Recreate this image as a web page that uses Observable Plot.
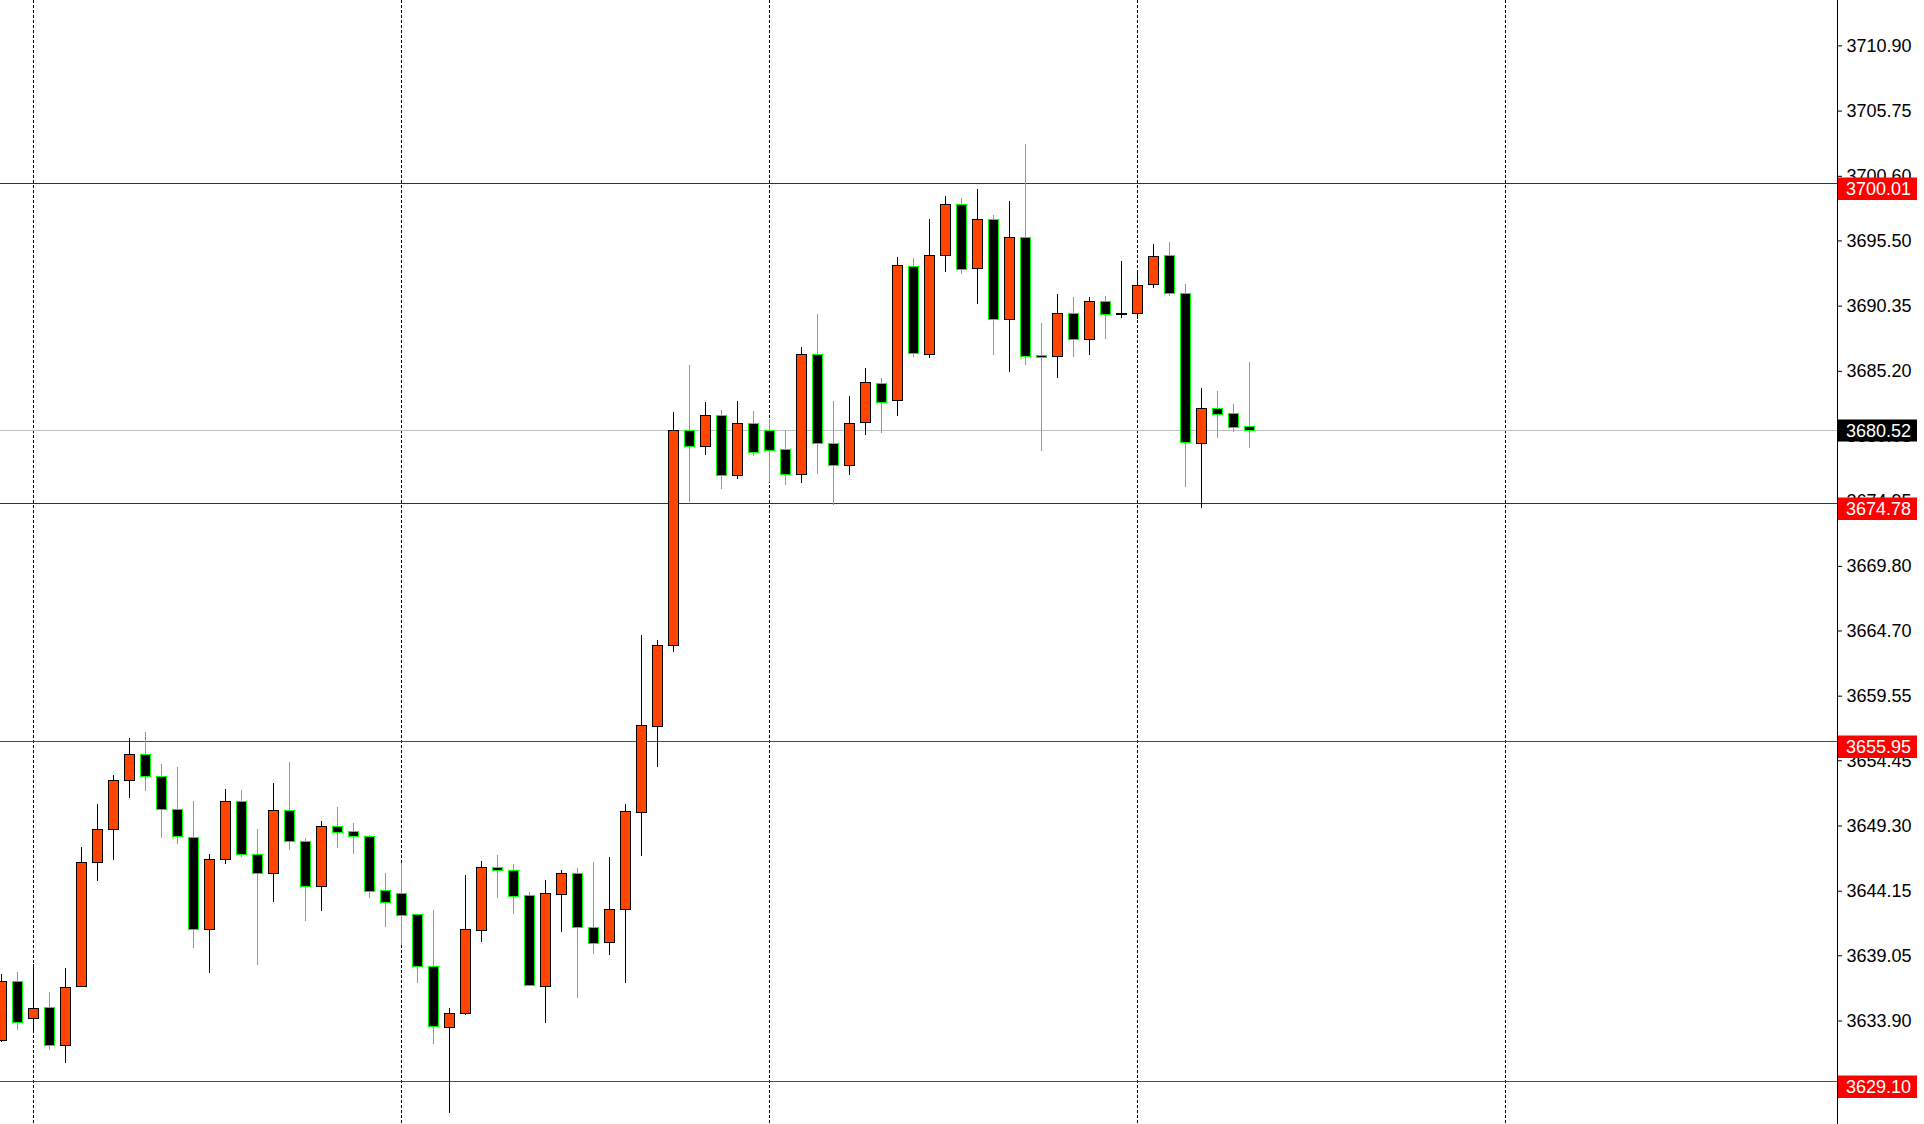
<!DOCTYPE html>
<html><head><meta charset="utf-8">
<script src="https://cdn.jsdelivr.net/npm/d3@7"></script>
<script src="https://cdn.jsdelivr.net/npm/@observablehq/plot@0.6"></script>
<style>html,body{margin:0;padding:0;background:#fff;overflow:hidden}</style>
</head><body><div id="chart"></div>
<script>
const opens = [3632.36,3636.97,3634.07,3634.94,3631.94,3636.60,3646.39,3649.00,3652.87,3654.92,
3653.18,3650.58,3648.37,3641.10,3646.63,3651.21,3647.03,3645.47,3650.50,3648.05,
3644.50,3649.24,3648.84,3648.45,3644.18,3643.95,3642.29,3638.18,3633.36,3634.47,
3641.02,3646.00,3645.76,3643.79,3636.60,3643.87,3645.52,3641.26,3640.08,3642.68,
3650.34,3657.10,3663.53,3680.51,3679.24,3681.69,3676.95,3681.06,3680.51,3679.01,
3677.03,3686.51,3679.48,3677.74,3681.14,3684.22,3682.84,3693.46,3686.51,3694.29,
3698.35,3693.30,3697.17,3689.27,3695.75,3686.43,3686.35,3689.74,3687.69,3690.69,
3689.68,3689.74,3692.03,3694.33,3691.32,3679.48,3682.24,3681.85,3680.82];
const highs = [3637.57,3637.73,3638.34,3636.15,3638.05,3647.60,3651.00,3653.29,3656.21,3656.68,
3654.16,3653.92,3651.23,3647.05,3652.18,3652.10,3649.02,3652.65,3654.31,3648.31,
3649.65,3650.76,3649.50,3648.55,3645.55,3646.34,3642.29,3642.63,3634.86,3645.39,
3646.47,3646.97,3646.26,3644.05,3645.00,3645.79,3645.94,3646.42,3646.81,3651.00,
3664.34,3663.95,3681.95,3685.66,3682.74,3682.11,3682.82,3682.03,3681.42,3680.53,
3687.08,3689.70,3682.82,3683.21,3685.43,3684.64,3694.19,3694.11,3697.19,3699.01,
3698.85,3699.56,3697.51,3698.61,3703.11,3688.98,3691.27,3691.03,3691.03,3691.11,
3693.87,3692.93,3695.22,3695.38,3692.06,3683.85,3683.61,3682.58,3685.90];
const lows = [3632.18,3633.15,3632.94,3631.57,3630.57,3636.52,3644.94,3646.58,3651.49,3652.05,
3648.31,3647.84,3639.65,3637.67,3646.28,3646.84,3638.28,3643.28,3647.37,3641.78,
3642.57,3647.55,3647.07,3643.60,3641.31,3639.89,3636.89,3632.07,3626.57,3634.36,
3640.12,3643.60,3642.34,3636.68,3633.73,3640.91,3635.70,3639.18,3639.10,3636.89,
3646.91,3653.94,3663.02,3674.82,3678.58,3675.89,3676.68,3678.50,3676.45,3676.21,
3676.37,3677.08,3674.63,3677.00,3680.16,3680.32,3681.66,3686.32,3686.24,3693.03,
3692.87,3690.50,3686.48,3685.13,3685.69,3678.90,3684.66,3686.32,3686.48,3687.74,
3689.40,3689.29,3691.77,3691.13,3676.03,3674.39,3679.92,3680.40,3679.13];
const closes = [3636.97,3633.76,3634.86,3631.94,3636.52,3646.39,3649.00,3652.87,3654.92,3653.18,
3650.58,3648.45,3641.10,3646.63,3651.21,3647.03,3645.47,3650.50,3648.05,3644.50,
3649.24,3648.76,3648.45,3644.10,3643.23,3642.21,3638.18,3633.44,3634.47,3641.10,
3646.00,3645.76,3643.71,3636.68,3643.95,3645.52,3641.26,3639.99,3642.68,3650.42,
3657.18,3663.53,3680.51,3679.24,3681.69,3676.95,3681.06,3678.77,3678.93,3677.03,
3686.51,3679.48,3677.74,3681.06,3684.30,3682.72,3693.53,3686.59,3694.33,3698.35,
3693.22,3697.17,3689.27,3695.75,3686.35,3686.27,3689.74,3687.69,3690.69,3689.67,
3689.76,3691.96,3694.25,3691.32,3679.56,3682.24,3681.77,3680.74,3680.52];

const tickValues = [3710.90,3705.75,3700.60,3695.50,3690.35,3685.20,3680.05,3674.95,
3669.80,3664.70,3659.55,3654.45,3649.30,3644.15,3639.05,3633.90];
const gridIdx = [2, 25, 48, 71, 94];
const levels = [3700.01, 3674.78, 3655.95, 3629.10];
const levelLineColors = ["#b00000", "#b00000", "#ff0000", "#ff0000"];
const currentPrice = 3680.52;

const data = opens.map((o, i) => ({i, open: o, high: highs[i], low: lows[i], close: closes[i], up: closes[i] >= o}));
const levelData = levels.map((v, k) => ({v, c: levelLineColors[k]}));
const xDomain = [-0.0625, 114.75];
const yDomain = [3625.728, 3714.484];
const BULL = "#ff4500", BEAR = "#00ff00", FONT = "'Liberation Sans', Arial, sans-serif";
const crisp = {shapeRendering: "crispEdges"};

const chart = Plot.plot({
  width: 1924, height: 1124,
  marginLeft: 0, marginRight: 87, marginTop: 0, marginBottom: 0,
  x: {domain: xDomain, axis: null},
  y: {domain: yDomain},
  style: {fontFamily: FONT, fontSize: "18px", background: "#fff", color: "#000", overflow: "visible"},
  marks: [
    Plot.ruleX(gridIdx, {stroke: "#000", strokeDasharray: "3,2", strokeWidth: 1, ...crisp}),
    Plot.ruleY([currentPrice], {stroke: "#c0c0c0", ...crisp}),
    Plot.ruleY(levelData, {y: "v", stroke: "c", ...crisp}),
    Plot.ruleX(data, {x: "i", y1: "low", y2: "high", stroke: d => d.up ? "#000000" : BEAR, strokeWidth: 1, ...crisp}),
    Plot.rect(data, {x1: d => d.i - 0.3125, x2: d => d.i + 0.3125, y1: "open", y2: "close",
      fill: d => d.up ? BULL : "#000000", stroke: d => d.up ? "#000000" : BEAR, strokeWidth: 1, ...crisp}),
    Plot.ruleX([xDomain[1]], {stroke: "#000", ...crisp}),
    Plot.axisY(tickValues, {anchor: "right", tickSize: 4, tickPadding: 5, tickFormat: d => d.toFixed(2), label: null, fontSize: 18})
  ]
});
document.getElementById("chart").appendChild(chart);

const sy = chart.scale("y");
const g = d3.select(chart).append("g")
  .attr("font-family", FONT).attr("font-size", 18).attr("text-anchor", "start");
for (const v of levels) {
  const yy = Math.round(sy.apply(v)) + 0.5;
  g.append("rect").attr("x", 1838).attr("y", yy - 6).attr("width", 79).attr("height", 22.5).attr("fill", "#ff0000");
  g.append("text").attr("x", 1846).attr("y", yy + 5.5).attr("dy", "0.35em").attr("fill", "#fff").text(v.toFixed(2));
}
{
  const yy = Math.round(sy.apply(currentPrice)) + 0.5;
  g.append("rect").attr("x", 1838).attr("y", yy - 11).attr("width", 79).attr("height", 22).attr("fill", "#000");
  g.append("text").attr("x", 1846).attr("y", yy + 0.5).attr("dy", "0.35em").attr("fill", "#fff").text(currentPrice.toFixed(2));
}
</script></body></html>
